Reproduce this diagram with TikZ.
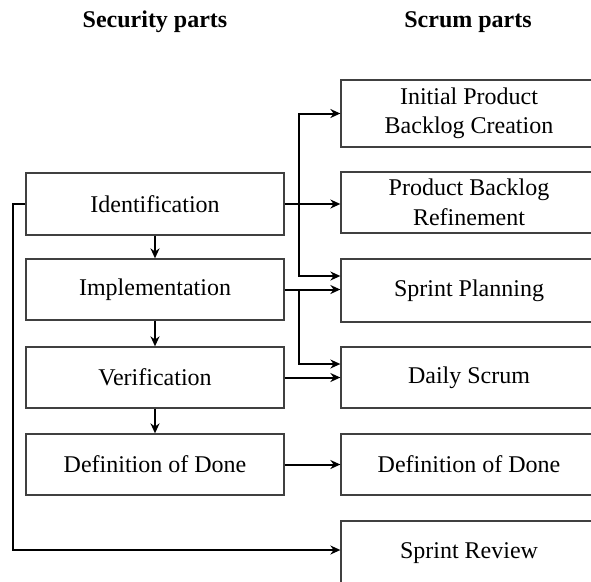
\documentclass[tikz,border=0pt]{standalone}
\usepackage{fontspec}
\setmainfont{Liberation Serif}
\usetikzlibrary{arrows.meta}
\begin{document}
\begin{tikzpicture}[x=1pt,y=-1pt,
  box/.style={draw=black!75, line width=1.3pt, minimum width=258pt, minimum height=62pt, inner sep=0pt, align=center, font=\fontsize{24}{29.5}\selectfont},
  rbox/.style={box, minimum width=256pt},
  hdr/.style={font=\fontsize{24}{28}\selectfont\bfseries},
  arr/.style={draw=black, line width=2pt, -{Stealth[length=10pt,width=9pt]}},
  ln/.style={draw=black, line width=2pt}]
\useasboundingbox (0,0) rectangle (591,581);
\clip (0,0) rectangle (591,581);
\node[hdr] (h1) at (155,22) {Security parts};
\node[hdr] (h2) at (468,22) {Scrum parts};
% left column
\node[box] (ident) at (155,204) {Identification};
\node[box, minimum height=61pt] (impl) at (155,289.5) {Implementation};
\node[box, minimum height=61pt] (verif) at (155,377.5) {Verification};
\node[box, minimum height=61pt] (dodl) at (155,464.5) {Definition of Done};
% right column
\node[rbox, minimum height=67pt] (init) at (469,113.5) {Initial Product\\Backlog Creation};
\node[rbox, minimum height=61pt] (pbr) at (469,202.5) {Product Backlog\\Refinement};
\node[rbox, minimum height=63pt] (sp) at (469,290.5) {Sprint Planning};
\node[rbox, minimum height=61pt] (daily) at (469,377.5) {Daily Scrum};
\node[rbox, minimum height=61pt] (dodr) at (469,464.5) {Definition of Done};
\node[rbox, minimum height=64pt] (sr) at (469,553) {Sprint Review};
% junctions
\coordinate (j1) at (299,204);
\coordinate (j2) at (299,290);
\coordinate (lx) at (13,204);
% vertical arrows on the left
\draw[arr] (ident.south) -- (impl.north);
\draw[arr] (impl.south) -- (verif.north);
\draw[arr] (verif.south) -- (dodl.north);
% identification connections
\draw[arr] (ident.east) -- (pbr.west |- ident.east);
\draw[arr] (j1) |- (init.west);
\draw[arr] (j1) |- ([yshift=14.5pt]sp.west);
% implementation
\draw[arr] (impl.east) -- (sp.west |- impl.east);
\draw[arr] (j2) |- ([yshift=13.5pt]daily.west);
% verification
\draw[arr] (verif.east) -- (daily.west |- verif.east);
% definition of done
\draw[arr] (dodl.east) -- (dodr.west |- dodl.east);
% sprint review loop
\draw[arr] (ident.west) -- (lx) |- ([yshift=3pt]sr.west);
\end{tikzpicture}
\end{document}
